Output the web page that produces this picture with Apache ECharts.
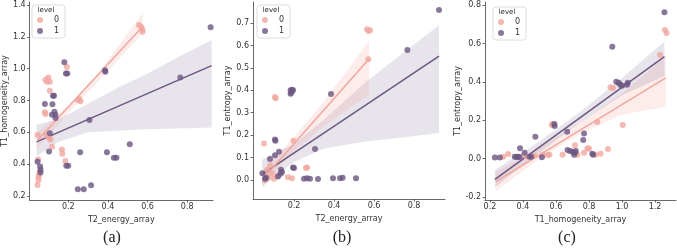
<!DOCTYPE html>
<html>
<head>
<meta charset="utf-8">
<script src="https://cdn.jsdelivr.net/npm/echarts@6/dist/echarts.min.js"></script>
<style>
  html, body { margin: 0; padding: 0; background: #fff; }
  #chart { width: 677px; height: 249px; }
</style>
</head>
<body>
<div id="chart"></div>
<script>
// (a) T2_energy vs T1_homogeneity
const energyHomog0 = [
  [0.557, 1.275], [0.568, 1.262], [0.573, 1.248], [0.575, 1.232],
  [0.193, 1.01], [0.085, 0.93], [0.1, 0.945], [0.107, 0.918], [0.092, 0.918],
  [0.107, 0.862], [0.248, 0.803], [0.255, 0.81], [0.262, 0.795],
  [0.082, 0.726], [0.085, 0.715], [0.045, 0.583], [0.09, 0.58], [0.105, 0.565], [0.11, 0.555],
  [0.048, 0.43], [0.05, 0.30], [0.05, 0.318], [0.052, 0.332], [0.045, 0.27], [0.055, 0.35],
  [0.118, 0.51], [0.168, 0.493], [0.17, 0.465], [0.185, 0.42]
]
const energyHomog1 = [
  [0.918, 1.26], [0.765, 0.945], [0.18, 1.04], [0.188, 0.97], [0.195, 0.97], [0.385, 0.99], [0.387, 0.98],
  [0.082, 0.778], [0.123, 0.83], [0.128, 0.83], [0.12, 0.776], [0.13, 0.73], [0.135, 0.71], [0.136, 0.69], [0.118, 0.71],
  [0.107, 0.594], [0.307, 0.678], [0.51, 0.525], [0.103, 0.479], [0.26, 0.475], [0.395, 0.475], [0.43, 0.44], [0.443, 0.44],
  [0.19, 0.39], [0.2, 0.39], [0.045, 0.415], [0.058, 0.385], [0.06, 0.365], [0.06, 0.347],
  [0.248, 0.242], [0.278, 0.242], [0.315, 0.267]
]
const fitA0 = [[0.045, 0.55], [0.575, 1.265]]
const fitA1 = [[0.04, 0.54], [0.923, 1.019]]
// [x, lower, upper]
const bandA0 = [[0.045, 0.50, 0.60], [0.2, 0.72, 0.77], [0.35, 0.92, 0.97], [0.575, 1.22, 1.35]]
const bandA1 = [[0.04, 0.45, 0.65], [0.15, 0.54, 0.68], [0.3, 0.60, 0.78], [0.45, 0.61, 0.88],
  [0.6, 0.62, 0.97], [0.75, 0.625, 1.07], [0.923, 0.63, 1.18]]

// (b) T2_energy vs T1_entropy
const energyEntropy0 = [
  [0.565, 0.672], [0.572, 0.665], [0.58, 0.668], [0.572, 0.538], [0.105, 0.37], [0.108, 0.365],
  [0.05, 0.163], [0.197, 0.175], [0.26, 0.053], [0.265, 0.055], [0.17, 0.012], [0.19, 0.008],
  [0.08, 0.065], [0.06, 0.02], [0.07, 0.01], [0.09, 0.03], [0.1, 0.005], [0.055, 0.0], [0.12, 0.02], [0.065, 0.045]
]
const energyEntropy1 = [
  [0.925, 0.758], [0.767, 0.58], [0.385, 0.383], [0.183, 0.40], [0.19, 0.403], [0.195, 0.40], [0.183, 0.385], [0.187, 0.39],
  [0.105, 0.18], [0.107, 0.175], [0.305, 0.138], [0.125, 0.126], [0.105, 0.11], [0.08, 0.093], [0.195, 0.055], [0.2, 0.053],
  [0.135, 0.045], [0.14, 0.035], [0.133, 0.028], [0.12, 0.015], [0.042, 0.03],
  [0.25, 0.005], [0.265, 0.008], [0.28, 0.005], [0.32, 0.004], [0.395, 0.008], [0.43, 0.008], [0.443, 0.01], [0.51, 0.008],
  [0.06, 0.01], [0.055, 0.005]
]
const fitB0 = [[0.045, 0.005], [0.575, 0.54]]
const fitB1 = [[0.04, 0.025], [0.925, 0.553]]
const bandB0 = [[0.045, -0.03, 0.04], [0.2, 0.13, 0.19], [0.35, 0.24, 0.35], [0.575, 0.38, 0.62]]
const bandB1 = [[0.04, -0.03, 0.09], [0.2, 0.08, 0.16], [0.35, 0.14, 0.27], [0.55, 0.17, 0.43],
  [0.75, 0.19, 0.57], [0.925, 0.21, 0.69]]

// (c) T1_homogeneity vs T1_entropy
const homogEntropy0 = [
  [1.26, 0.67], [1.27, 0.655], [1.23, 0.54], [0.93, 0.372], [0.945, 0.368], [1.004, 0.175], [0.575, 0.175], [0.58, 0.18],
  [0.85, 0.19], [0.915, 0.05], [0.79, 0.053], [0.8, 0.053], [0.715, 0.07], [0.77, 0.03], [0.73, 0.02], [0.31, 0.024],
  [0.28, 0.01], [0.42, 0.012], [0.47, 0.015], [0.52, 0.02], [0.55, 0.018], [0.56, 0.02], [0.84, 0.02], [0.87, 0.025],
  [0.37, 0.01], [0.64, 0.02]
]
const homogEntropy1 = [
  [1.257, 0.762], [0.941, 0.583], [0.965, 0.40], [0.98, 0.395], [0.99, 0.385], [1.0, 0.38], [1.03, 0.385], [1.035, 0.395],
  [0.668, 0.14], [0.59, 0.18], [0.592, 0.17], [0.475, 0.114], [0.77, 0.13], [0.765, 0.097], [0.382, 0.054], [0.41, 0.03],
  [0.67, 0.045], [0.685, 0.04], [0.70, 0.035], [0.715, 0.03], [0.71, 0.02], [0.72, 0.04], [0.82, 0.025], [0.825, 0.02],
  [0.23, 0.005], [0.26, 0.005], [0.35, 0.01], [0.36, 0.008], [0.37, 0.01], [0.38, 0.008], [0.44, 0.01], [0.45, 0.01], [0.515, 0.007]
]
const fitC0 = [[0.235, -0.12], [1.265, 0.42]]
const fitC1 = [[0.23, -0.108], [1.257, 0.531]]
const bandC0 = [[0.235, -0.17, -0.07], [0.5, 0.0, 0.06], [0.75, 0.13, 0.19], [1.0, 0.23, 0.34], [1.265, 0.27, 0.53]]
const bandC1 = [[0.23, -0.15, -0.06], [0.5, 0.03, 0.09], [0.75, 0.19, 0.245], [1.0, 0.33, 0.42], [1.257, 0.43, 0.61]]

// tick labels
const energyTicks = [0.2, 0.4, 0.6, 0.8]
const homogTicksY = [0.2, 0.4, 0.6, 0.8, 1.0, 1.2, 1.4]
const entropyTicksB = [0.0, 0.1, 0.2, 0.3, 0.4, 0.5, 0.6, 0.7]
const homogTicksX = [0.2, 0.4, 0.6, 0.8, 1.0, 1.2]
const entropyTicksC = [-0.2, 0.0, 0.2, 0.4, 0.6, 0.8]

const PINK = '#f0a79f'
const PURPLE = '#6d5682'
const TEXT = '#333'
const FONT = 'DejaVu Sans'

function axis(idx, dim, min, max, ticks, name, nameGap) {
  return {
    gridIndex: idx,
    type: 'value',
    min, max,
    name,
    nameLocation: 'middle',
    nameGap,
    nameTextStyle: { fontSize: 8, color: TEXT, fontFamily: FONT },
    axisLine: { show: true, onZero: false, lineStyle: { color: '#444', width: 0.8 } },
    axisTick: { show: true, length: 2.5, customValues: ticks, lineStyle: { color: '#444', width: 0.8 } },
    axisLabel: {
      customValues: ticks,
      formatter: v => v.toFixed(1),
      fontSize: 8,
      color: TEXT,
      fontFamily: FONT,
      margin: dim === 'x' ? 3 : 4,
    },
    splitLine: { show: false },
  }
}

function bandSeries(band, idx, color) {
  return {
    type: 'custom',
    xAxisIndex: idx,
    yAxisIndex: idx,
    silent: true,
    z: 1,
    data: band,
    encode: { x: 0, y: [1, 2] },
    renderItem: (params, api) => {
      if (params.dataIndex !== 0) return null
      const upper = band.map(d => api.coord([d[0], d[2]]))
      const lower = band.map(d => api.coord([d[0], d[1]])).reverse()
      return { type: 'polygon', shape: { points: upper.concat(lower) }, style: { fill: color } }
    },
  }
}

function fitSeries(fit, idx, color) {
  return {
    type: 'line',
    xAxisIndex: idx,
    yAxisIndex: idx,
    data: fit,
    symbol: 'none',
    silent: true,
    z: 3,
    lineStyle: { color, width: 1.5 },
  }
}

function pointSeries(name, pts, idx, color) {
  return {
    name,
    type: 'scatter',
    xAxisIndex: idx,
    yAxisIndex: idx,
    data: pts,
    symbolSize: 6,
    z: 4,
    itemStyle: { color, opacity: 0.8 },
  }
}

function legend(left, top) {
  return {
    data: ['0', '1'],
    left, top,
    orient: 'vertical',
    selectedMode: false,
    icon: 'circle',
    itemWidth: 6,
    itemHeight: 6,
    itemGap: 3,
    padding: [11, 6, 3, 5],
    borderColor: '#ddd',
    borderWidth: 1,
    borderRadius: 3,
    backgroundColor: 'rgba(255,255,255,0.8)',
    textStyle: { fontSize: 8, color: TEXT, fontFamily: FONT, padding: [0, 0, 0, 6] },
  }
}

function label(text, x, y, size, family) {
  return {
    type: 'text', x, y, z: 10,
    style: { text, fontSize: size, fontFamily: family, fill: '#222', textAlign: 'center', textVerticalAlign: 'middle' },
  }
}

const chart = echarts.init(document.getElementById('chart'))
chart.setOption({
  animation: false,
  grid: [
    { left: 28, top: 2, width: 185, height: 198 },
    { left: 253, top: 2, width: 192, height: 197 },
    { left: 485, top: 2, width: 191, height: 198 },
  ],
  xAxis: [
    axis(0, 'x', 0.005, 0.93, energyTicks, 'T2_energy_array', 12),
    axis(1, 'x', -0.005, 0.955, energyTicks, 'T2_energy_array', 12),
    axis(2, 'x', 0.17, 1.327, homogTicksX, 'T1_homogeneity_array', 12),
  ],
  yAxis: [
    axis(0, 'y', 0.175, 1.419, homogTicksY, 'T1_homogeneity_array', 18),
    axis(1, 'y', -0.085, 0.794, entropyTicksB, 'T1_entropy_array', 18),
    axis(2, 'y', -0.216, 0.816, entropyTicksC, 'T1_entropy_array', 20),
  ],
  legend: [legend(32, 5), legend(257, 5), legend(493, 7)],
  graphic: [
    label('level', 46, 10, 7, FONT),
    label('level', 271, 10, 7, FONT),
    label('level', 507, 12, 7, FONT),
    label('(a)', 112, 238, 16, 'Liberation Serif'),
    label('(b)', 342, 238, 16, 'Liberation Serif'),
    label('(c)', 567, 238, 16, 'Liberation Serif'),
  ],
  series: [
    bandSeries(bandA1, 0, 'rgba(109,86,130,0.16)'),
    bandSeries(bandA0, 0, 'rgba(240,167,159,0.22)'),
    fitSeries(fitA1, 0, PURPLE),
    fitSeries(fitA0, 0, PINK),
    pointSeries('0', energyHomog0, 0, PINK),
    pointSeries('1', energyHomog1, 0, PURPLE),

    bandSeries(bandB1, 1, 'rgba(109,86,130,0.16)'),
    bandSeries(bandB0, 1, 'rgba(240,167,159,0.22)'),
    fitSeries(fitB1, 1, PURPLE),
    fitSeries(fitB0, 1, PINK),
    pointSeries('0', energyEntropy0, 1, PINK),
    pointSeries('1', energyEntropy1, 1, PURPLE),

    bandSeries(bandC0, 2, 'rgba(240,167,159,0.22)'),
    bandSeries(bandC1, 2, 'rgba(109,86,130,0.16)'),
    fitSeries(fitC0, 2, PINK),
    fitSeries(fitC1, 2, PURPLE),
    pointSeries('0', homogEntropy0, 2, PINK),
    pointSeries('1', homogEntropy1, 2, PURPLE),
  ],
})
</script>
</body>
</html>
